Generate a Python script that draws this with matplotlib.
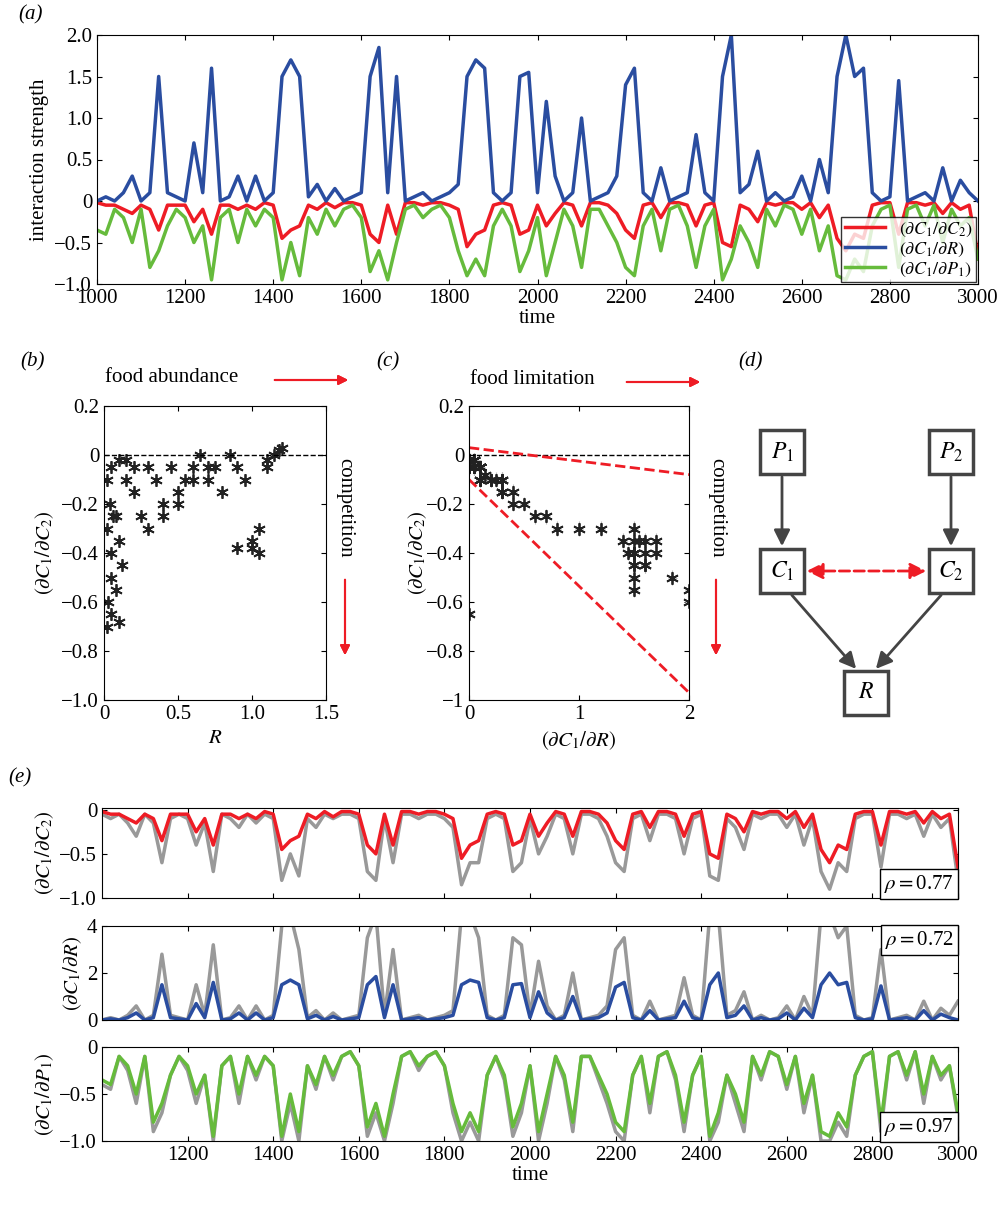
import numpy as np
import matplotlib.pyplot as plt
from matplotlib.patches import Rectangle

plt.rcParams['font.family'] = ['Liberation Serif', 'DejaVu Serif']
plt.rcParams['mathtext.fontset'] = 'stix'
plt.rcParams['font.size'] = 15
plt.rcParams['xtick.direction'] = 'in'
plt.rcParams['ytick.direction'] = 'in'
plt.rcParams['xtick.top'] = True
plt.rcParams['ytick.right'] = True

time = np.arange(1000, 3001, 20)

dR = [0.0, 0.05, 0.0, 0.1, 0.3, 0.0, 0.1, 1.5, 0.1, 0.05,
      0.0, 0.7, 0.1, 1.6, 0.0, 0.05, 0.3, 0.0, 0.3, 0.0,
      0.1, 1.5, 1.7, 1.5, 0.05, 0.2, 0.0, 0.15, 0.0, 0.05,
      0.1, 1.5, 1.85, 0.1, 1.5, 0.0, 0.05, 0.1, 0.0, 0.05,
      0.1, 0.2, 1.5, 1.7, 1.6, 0.1, 0.0, 0.1, 1.5, 1.55,
      0.1, 1.2, 0.3, 0.0, 0.1, 1.0, 0.0, 0.05, 0.1, 0.3,
      1.4, 1.6, 0.1, 0.0, 0.4, 0.0, 0.05, 0.1, 0.8, 0.1,
      0.0, 1.5, 2.0, 0.1, 0.2, 0.6, 0.0, 0.1, 0.0, 0.05,
      0.3, 0.0, 0.5, 0.1, 1.5, 2.0, 1.5, 1.6, 0.1, 0.0,
      0.05, 1.45, 0.0, 0.05, 0.1, 0.0, 0.4, 0.0, 0.25, 0.1,
      0.0]
dC2 = [-0.02, -0.05, -0.05, -0.1, -0.15, -0.05, -0.1, -0.35, -0.05, -0.05,
       -0.05, -0.25, -0.1, -0.4, -0.05, -0.05, -0.1, -0.05, -0.1, -0.02,
       -0.05, -0.45, -0.35, -0.3, -0.05, -0.1, -0.02, -0.08, -0.02, -0.02,
       -0.05, -0.4, -0.5, -0.05, -0.4, -0.02, -0.02, -0.05, -0.02, -0.02,
       -0.05, -0.1, -0.55, -0.4, -0.35, -0.05, -0.02, -0.05, -0.4, -0.35,
       -0.05, -0.3, -0.15, -0.02, -0.05, -0.3, -0.02, -0.02, -0.05, -0.15,
       -0.35, -0.45, -0.05, -0.02, -0.2, -0.02, -0.02, -0.05, -0.3, -0.05,
       -0.02, -0.5, -0.55, -0.05, -0.1, -0.25, -0.02, -0.05, -0.02, -0.02,
       -0.1, -0.02, -0.2, -0.05, -0.45, -0.6, -0.4, -0.45, -0.05, -0.02,
       -0.02, -0.4, -0.02, -0.02, -0.05, -0.02, -0.15, -0.02, -0.1, -0.05,
       -0.65]
dP1 = [-0.35, -0.4, -0.1, -0.2, -0.5, -0.1, -0.8, -0.6, -0.3, -0.1,
       -0.2, -0.5, -0.3, -0.95, -0.2, -0.1, -0.5, -0.1, -0.3, -0.1,
       -0.2, -0.95, -0.5, -0.9, -0.2, -0.4, -0.1, -0.3, -0.1, -0.05,
       -0.2, -0.85, -0.6, -0.95, -0.5, -0.1, -0.05, -0.2, -0.1, -0.05,
       -0.2, -0.6, -0.9, -0.7, -0.9, -0.3, -0.1, -0.3, -0.85, -0.6,
       -0.2, -0.9, -0.5, -0.1, -0.3, -0.8, -0.1, -0.1, -0.3, -0.5,
       -0.8, -0.9, -0.3, -0.1, -0.6, -0.1, -0.05, -0.3, -0.8, -0.3,
       -0.1, -0.95, -0.7, -0.3, -0.5, -0.8, -0.1, -0.3, -0.05, -0.1,
       -0.4, -0.1, -0.6, -0.3, -0.9, -0.95, -0.7, -0.85, -0.3, -0.1,
       -0.05, -0.8, -0.1, -0.05, -0.3, -0.05, -0.5, -0.1, -0.3, -0.2,
       -0.7]

# gray (true) series for panel e
true_C2 = [-0.05, -0.1, -0.05, -0.15, -0.3, -0.05, -0.15, -0.6, -0.1, -0.05,
           -0.1, -0.4, -0.15, -0.7, -0.05, -0.1, -0.2, -0.05, -0.15, -0.05,
           -0.1, -0.8, -0.5, -0.75, -0.1, -0.2, -0.05, -0.1, -0.05, -0.05,
           -0.1, -0.7, -0.8, -0.1, -0.6, -0.05, -0.05, -0.1, -0.05, -0.05,
           -0.1, -0.2, -0.85, -0.6, -0.6, -0.1, -0.05, -0.1, -0.7, -0.6,
           -0.1, -0.5, -0.3, -0.05, -0.1, -0.5, -0.05, -0.05, -0.1, -0.3,
           -0.6, -0.7, -0.1, -0.05, -0.35, -0.05, -0.05, -0.1, -0.5, -0.1,
           -0.05, -0.75, -0.8, -0.1, -0.2, -0.45, -0.05, -0.1, -0.05, -0.05,
           -0.2, -0.05, -0.4, -0.1, -0.7, -0.9, -0.6, -0.7, -0.1, -0.05,
           -0.05, -0.65, -0.05, -0.05, -0.1, -0.05, -0.3, -0.05, -0.2, -0.1,
           -0.8]
true_R = [0.0, 0.1, 0.0, 0.2, 0.6, 0.0, 0.2, 2.8, 0.2, 0.1,
          0.0, 1.5, 0.2, 3.2, 0.0, 0.1, 0.6, 0.0, 0.6, 0.0,
          0.2, 4.0, 4.5, 3.0, 0.1, 0.4, 0.0, 0.3, 0.0, 0.1,
          0.2, 3.5, 4.5, 0.2, 3.0, 0.0, 0.1, 0.2, 0.0, 0.1,
          0.2, 0.4, 4.5, 4.5, 3.5, 0.2, 0.0, 0.2, 3.5, 3.2,
          0.2, 2.5, 0.6, 0.0, 0.2, 2.0, 0.0, 0.1, 0.2, 0.6,
          3.0, 3.5, 0.2, 0.0, 0.8, 0.0, 0.1, 0.2, 1.8, 0.2,
          0.0, 4.5, 4.5, 0.2, 0.4, 1.2, 0.0, 0.2, 0.0, 0.1,
          0.6, 0.0, 1.0, 0.2, 4.5, 4.5, 3.5, 4.0, 0.2, 0.0,
          0.1, 3.0, 0.0, 0.1, 0.2, 0.0, 0.8, 0.0, 0.5, 0.2,
          0.8]
true_P1 = [-0.4, -0.45, -0.1, -0.25, -0.6, -0.1, -0.9, -0.7, -0.3, -0.1,
           -0.25, -0.6, -0.3, -1.0, -0.2, -0.1, -0.6, -0.1, -0.35, -0.1,
           -0.2, -1.0, -0.6, -1.0, -0.2, -0.45, -0.1, -0.35, -0.1, -0.05,
           -0.2, -0.95, -0.7, -1.0, -0.6, -0.1, -0.05, -0.25, -0.1, -0.05,
           -0.2, -0.7, -1.0, -0.8, -1.0, -0.3, -0.1, -0.35, -0.95, -0.7,
           -0.2, -1.0, -0.6, -0.1, -0.35, -0.9, -0.1, -0.1, -0.35, -0.6,
           -0.9, -1.0, -0.3, -0.1, -0.7, -0.1, -0.05, -0.35, -0.9, -0.3,
           -0.1, -1.0, -0.8, -0.3, -0.6, -0.9, -0.1, -0.35, -0.05, -0.1,
           -0.45, -0.1, -0.7, -0.3, -1.0, -1.0, -0.8, -0.95, -0.3, -0.1,
           -0.05, -0.9, -0.1, -0.05, -0.35, -0.05, -0.6, -0.1, -0.35, -0.2,
           -0.75]

# panel b: resource abundance vs competition
R_vals = [0.02, 0.03, 0.05, 0.05, 0.08, 0.1, 0.12, 0.02, 0.04, 0.06, 0.1, 0.15, 0.2,
          0.25, 0.3, 0.35, 0.4, 0.45, 0.5, 0.55, 0.6, 0.65, 0.7, 0.75, 0.8, 0.85,
          0.9, 0.95, 1.0, 1.05, 1.1, 1.15, 1.2, 0.3, 0.4, 0.5, 0.6, 0.7, 0.9, 1.0,
          1.05, 0.05, 0.1, 0.15, 0.2, 0.05, 0.08, 1.1, 1.18, 0.02]
comp_vals = [-0.7, -0.6, -0.5, -0.65, -0.55, -0.68, -0.45, -0.3, -0.2, -0.25, -0.35,
             -0.1, -0.15, -0.25, -0.05, -0.1, -0.2, -0.05, -0.15, -0.1, -0.05, 0.0,
             -0.1, -0.05, -0.15, 0.0, -0.05, -0.1, -0.35, -0.4, -0.05, 0.0, 0.03,
             -0.3, -0.25, -0.2, -0.1, -0.05, -0.38, -0.38, -0.3, -0.05, -0.02, -0.02,
             -0.05, -0.4, -0.25, -0.02, 0.02, -0.1]

# panel c: envelope lines (intercept, slope)
env_upper = (0.03, -0.055)
env_lower = (-0.1, -0.435)

RED, BLUE, GREEN, GRAY = '#ee1c25', '#2a4da0', '#66bb3c', '#999999'
W, H = 1003, 1207
STAR = (6, 2, 0)


def box(l, t, r, b):
    return [l / W, 1 - b / H, (r - l) / W, (b - t) / H]


def fx(x):
    return x / W


def fy(y):
    return 1 - y / H


fig = plt.figure(figsize=(W / 100, H / 100), dpi=100)
red_arrow = dict(arrowstyle='-|>', color=RED, lw=1.5, mutation_scale=14)

# (a)
ax = fig.add_axes(box(97, 35, 978, 284))
ax.plot(time, dC2, color=RED, lw=2.5, label=r'$(\partial C_1/\partial C_2)$')
ax.plot(time, dR, color=BLUE, lw=2.5, label=r'$(\partial C_1/\partial R)$')
ax.plot(time, dP1, color=GREEN, lw=2.5, label=r'$(\partial C_1/\partial P_1)$')
ax.set_xlim(1000, 3000)
ax.set_xticks(range(1000, 3001, 200))
ax.set_ylim(-1, 2)
ax.set_yticks([-1, -0.5, 0, 0.5, 1, 1.5, 2])
ax.set_yticklabels(['−1.0', '−0.5', '0', '0.5', '1.0', '1.5', '2.0'])
ax.set_xlabel('time', labelpad=1)
ax.set_ylabel('interaction strength')
ax.legend(loc='lower right', fontsize=13, fancybox=False, edgecolor='k',
          borderpad=0.2, handlelength=2.2, labelspacing=0.1, borderaxespad=0.1)
fig.text(fx(18), fy(15), '(a)', style='italic', va='center')

# (b)
ax = fig.add_axes(box(104, 406, 326, 700))
ax.plot(R_vals, comp_vals, ls='none', marker=STAR, color='#222222', ms=9, mew=1.3)
ax.axhline(0, color='k', ls='--', lw=1)
ax.set_xlim(0, 1.5)
ax.set_ylim(-1, 0.2)
ax.set_yticks([-1, -0.8, -0.6, -0.4, -0.2, 0, 0.2])
ax.set_yticklabels(['−1.0', '−0.8', '−0.6', '−0.4', '−0.2', '0', '0.2'])
ax.set_xticks([0, 0.5, 1, 1.5])
ax.set_xticklabels(['0', '0.5', '1.0', '1.5'])
ax.set_xlabel(r'$R$')
ax.set_ylabel(r'$(\partial C_1/\partial C_2)$')
fig.text(fx(20), fy(362), '(b)', style='italic', va='center')
fig.text(fx(105), fy(377), 'food abundance', va='center')
fig.add_artist(plt.annotate('', xy=(fx(351), fy(380)), xytext=(fx(272), fy(380)),
                            xycoords='figure fraction', arrowprops=red_arrow))
fig.text(fx(345), fy(508), 'competition', rotation=-90, va='center', ha='center')
fig.add_artist(plt.annotate('', xy=(fx(345), fy(658)), xytext=(fx(345), fy(577)),
                            xycoords='figure fraction', arrowprops=red_arrow))

# (c)
ax = fig.add_axes(box(469, 406, 689, 700))
ax.errorbar(dR, dC2, xerr=[0.04] * len(dR), yerr=[0.03] * len(dR), fmt='none',
            ecolor='#bbbbbb', lw=0.8)
ax.plot(dR, dC2, ls='none', marker=STAR, color='#222222', ms=9, mew=1.3)
ax.axhline(0, color='k', ls='--', lw=1)
xs = np.array([0, 2])
ax.plot(xs, env_upper[0] + env_upper[1] * xs, color=RED, ls='--', lw=2)
ax.plot(xs, env_lower[0] + env_lower[1] * xs, color=RED, ls='--', lw=2)
ax.set_xlim(0, 2)
ax.set_ylim(-1, 0.2)
ax.set_yticks([-1, -0.8, -0.6, -0.4, -0.2, 0, 0.2])
ax.set_yticklabels(['−1', '−0.8', '−0.6', '−0.4', '−0.2', '0', '0.2'])
ax.set_xticks([0, 1, 2])
ax.set_xlabel(r'$(\partial C_1/\partial R)$')
ax.set_ylabel(r'$(\partial C_1/\partial C_2)$', labelpad=-2)
fig.text(fx(376), fy(362), '(c)', style='italic', va='center')
fig.text(fx(470), fy(379), 'food limitation', va='center')
fig.add_artist(plt.annotate('', xy=(fx(703), fy(382)), xytext=(fx(624), fy(382)),
                            xycoords='figure fraction', arrowprops=red_arrow))
fig.text(fx(717), fy(508), 'competition', rotation=-90, va='center', ha='center')
fig.add_artist(plt.annotate('', xy=(fx(716), fy(658)), xytext=(fx(716), fy(577)),
                            xycoords='figure fraction', arrowprops=red_arrow))

# (d) diagram
fig.text(fx(738), fy(362), '(d)', style='italic', va='center')
ad = fig.add_axes(box(740, 390, 1000, 740))
ad.set_xlim(740, 1000)
ad.set_ylim(740, 390)
ad.axis('off')
nodes = {'P1': (782, 452, r'$P_1$'), 'P2': (951, 452, r'$P_2$'),
         'C1': (782, 571, r'$C_1$'), 'C2': (951, 571, r'$C_2$'),
         'R': (866, 693, r'$R$')}
hs = 22
for key, (x, y, lab) in nodes.items():
    ad.add_patch(Rectangle((x - hs, y - hs), 2 * hs, 2 * hs, fill=False, ec='#444444', lw=2.5))
    ad.text(x, y, lab, ha='center', va='center', fontsize=17)
arr = dict(arrowstyle='-|>', color='#444444', lw=2, mutation_scale=24)
ad.annotate('', xy=(782, 549), xytext=(782, 474), arrowprops=arr)
ad.annotate('', xy=(951, 549), xytext=(951, 474), arrowprops=arr)
ad.annotate('', xy=(858, 671), xytext=(790, 593), arrowprops=arr)
ad.annotate('', xy=(874, 671), xytext=(943, 593), arrowprops=arr)
ad.annotate('', xy=(929, 571), xytext=(804, 571),
            arrowprops=dict(arrowstyle='<|-|>', color=RED, lw=2, ls='--', mutation_scale=24))

# (e)
fig.text(fx(8), fy(778), '(e)', style='italic', va='center')
specs = [
    (box(102, 808, 958, 898), true_C2, dC2, RED, (-1, 0.02), [-1, -0.5, 0], ['−1.0', '−0.5', '0'],
     r'$(\partial C_1/\partial C_2)$', '0.77', (0.995, 0.03)),
    (box(102, 926, 958, 1020), true_R, dR, BLUE, (0, 4), [0, 2, 4], ['0', '2', '4'],
     r'$(\partial C_1/\partial R)$', '0.72', (0.995, 0.97)),
    (box(102, 1047, 958, 1141), true_P1, dP1, GREEN, (-1, 0), [-1, -0.5, 0], ['−1.0', '−0.5', '0'],
     r'$(\partial C_1/\partial P_1)$', '0.97', (0.995, 0.03)),
]
for i, (pos, g, c, col, yl, yt, ytl, lab, rho, tp) in enumerate(specs):
    ax = fig.add_axes(pos)
    ax.plot(time, g, color=GRAY, lw=2.5)
    ax.plot(time, c, color=col, lw=2.5)
    ax.set_xlim(1000, 3000)
    ax.set_ylim(*yl)
    ax.set_yticks(yt)
    ax.set_yticklabels(ytl)
    ax.set_ylabel(lab, labelpad=2)
    ax.set_xticks(range(1200, 3001, 200))
    if i < 2:
        ax.set_xticklabels([])
    else:
        ax.set_xlabel('time', labelpad=1)
    ax.text(tp[0], tp[1], r'$\rho = $' + rho, transform=ax.transAxes, ha='right',
            va='bottom' if tp[1] < 0.5 else 'top', fontsize=15,
            bbox=dict(fc='white', ec='k', pad=3))

fig.savefig('out.png', dpi=100)
